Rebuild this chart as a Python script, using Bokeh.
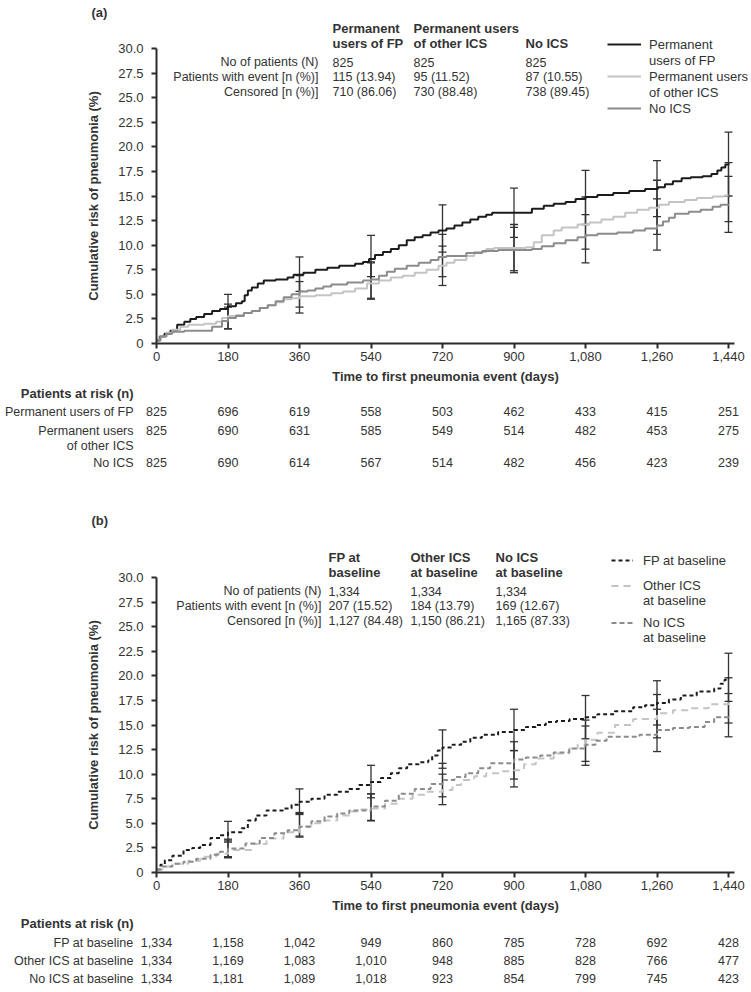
from bokeh.plotting import figure
from bokeh.models import (ColumnDataSource, Label, LabelSet, Whisker, TeeHead, Legend, LegendItem,
                          NumeralTickFormatter, FixedTicker, Range1d, LinearAxis)
from bokeh.layouts import column
from bokeh.embed import file_html
from bokeh.resources import INLINE
from bokeh.core.properties import value

# ---------------- data ----------------
ticks_days = [0, 180, 360, 540, 720, 900, 1080, 1260, 1440]
ci_days = [180, 360, 540, 720, 900, 1080, 1260, 1440]

# Panel (a)
a_fp_days = [0, 8, 20, 35, 52, 70, 85, 100, 120, 140, 160, 180, 200, 215, 222, 230, 240, 255, 270, 300, 330,
             345, 370, 400, 430, 460, 500, 520, 535, 550, 570, 590, 610, 630, 650, 670, 690, 710, 730, 750,
             770, 790, 810, 830, 845, 945, 975, 1000, 1030, 1055, 1080, 1110, 1150, 1190, 1230, 1262, 1280,
             1300, 1322, 1345, 1375, 1397, 1412, 1422, 1432, 1440]
a_fp_vals = [0.3, 0.7, 1.0, 1.3, 1.9, 2.2, 2.5, 2.7, 3.0, 3.3, 3.5, 3.8, 4.1, 4.3, 4.9, 5.4, 5.7, 6.1, 6.4, 6.5,
             6.7, 7.0, 7.2, 7.5, 7.7, 7.9, 8.1, 8.3, 8.6, 9.0, 9.3, 9.6, 10.0, 10.5, 10.8, 11.0, 11.3, 11.5,
             11.7, 12.0, 12.3, 12.6, 12.9, 13.1, 13.3, 13.7, 14.0, 14.2, 14.4, 14.7, 14.9, 15.1, 15.3, 15.5,
             15.7, 15.9, 16.2, 16.5, 16.8, 16.9, 17.0, 17.25, 17.6, 17.9, 18.2, 18.3]
a_oth_days = [0, 10, 25, 40, 60, 80, 120, 150, 165, 180, 200, 220, 240, 260, 280, 300, 320, 340, 360, 400, 440,
              470, 500, 530, 560, 590, 620, 650, 680, 710, 730, 750, 780, 800, 830, 850, 930, 950, 970, 1000,
              1020, 1060, 1090, 1120, 1150, 1180, 1210, 1240, 1265, 1290, 1330, 1360, 1400, 1430, 1440]
a_oth_vals = [0.3, 0.7, 1.1, 1.4, 1.7, 1.9, 2.0, 2.2, 2.6, 2.8, 2.9, 3.1, 3.3, 3.6, 3.9, 4.2, 4.5, 4.6, 4.8, 4.9,
              5.1, 5.3, 5.6, 6.1, 6.4, 6.7, 6.9, 7.2, 7.5, 7.9, 8.2, 8.5, 8.9, 9.3, 9.6, 9.7, 9.8, 10.3, 11.0,
              11.5, 11.8, 12.1, 12.3, 12.6, 12.9, 13.3, 13.6, 13.8, 14.1, 14.4, 14.6, 14.8, 14.95, 15.05, 15.05]
a_no_days = [0, 10, 25, 40, 70, 140, 165, 180, 200, 220, 240, 260, 280, 300, 320, 340, 360, 380, 400, 420, 440,
             480, 520, 540, 560, 580, 600, 630, 660, 690, 710, 730, 780, 820, 860, 945, 970, 1000, 1030, 1060,
             1080, 1110, 1160, 1200, 1230, 1260, 1275, 1290, 1305, 1340, 1370, 1400, 1420, 1440]
a_no_vals = [0.3, 0.7, 1.0, 1.2, 1.3, 1.7, 2.3, 2.6, 2.8, 3.1, 3.3, 3.6, 3.9, 4.3, 4.7, 5.0, 5.3, 5.4, 5.6, 5.8,
             6.0, 6.2, 6.4, 6.5, 6.9, 7.3, 7.6, 7.9, 8.2, 8.5, 8.8, 8.9, 9.2, 9.4, 9.5, 9.6, 9.9, 10.2, 10.5,
             10.8, 11.0, 11.15, 11.3, 11.5, 11.7, 12.0, 12.4, 12.8, 13.2, 13.4, 13.6, 13.9, 14.1, 14.2]
a_fp_lo = [2.6, 5.3, 6.8, 9.3, 10.8, 12.1, 12.9, 15.0]
a_fp_hi = [5.0, 8.8, 11.0, 14.1, 15.8, 17.6, 18.6, 21.5]
a_oth_lo = [1.5, 3.1, 4.5, 5.9, 7.4, 9.6, 11.1, 12.4]
a_oth_hi = [4.0, 6.3, 8.2, 9.9, 12.1, 14.9, 16.6, 18.4]
a_no_lo = [1.5, 3.7, 4.6, 6.8, 7.2, 8.2, 9.5, 11.3]
a_no_hi = [3.7, 6.9, 8.3, 11.1, 11.8, 13.1, 14.7, 17.0]

a_head1 = ["Permanent", "Permanent users", ""]
a_head2 = ["users of FP", "of other ICS", "No ICS"]
a_npat = ["825", "825", "825"]
a_event = ["115 (13.94)", "95 (11.52)", "87 (10.55)"]
a_cens = ["710 (86.06)", "730 (88.48)", "738 (89.45)"]
a_risk_fp = ["825", "696", "619", "558", "503", "462", "433", "415", "251"]
a_risk_oth = ["825", "690", "631", "585", "549", "514", "482", "453", "275"]
a_risk_no = ["825", "690", "614", "567", "514", "482", "456", "423", "239"]

# Panel (b)
b_fp_days = [0, 10, 21, 40, 68, 90, 110, 136, 160, 180, 214, 230, 250, 277, 318, 340, 360, 390, 423, 455, 485,
             510, 540, 565, 590, 610, 631, 660, 684, 694, 708, 720, 745, 767, 790, 819, 860, 900, 930, 955, 980,
             1007, 1040, 1080, 1110, 1154, 1200, 1230, 1260, 1290, 1320, 1360, 1404, 1420, 1430, 1440]
b_fp_vals = [0.3, 0.8, 1.25, 1.7, 2.3, 2.5, 2.8, 3.5, 3.8, 4.1, 4.5, 5.3, 5.8, 6.3, 6.5, 6.9, 7.2, 7.5, 7.9, 8.2,
             8.5, 8.9, 9.2, 9.6, 10.1, 10.6, 11.0, 11.2, 11.4, 11.9, 12.4, 12.7, 13.0, 13.3, 13.7, 14.0, 14.3,
             14.5, 14.8, 15.0, 15.3, 15.4, 15.6, 15.8, 16.1, 16.4, 16.8, 17.0, 17.25, 17.6, 18.0, 18.4, 18.7,
             19.2, 19.6, 19.8]
b_oth_days = [0, 15, 47, 80, 110, 150, 180, 214, 240, 277, 320, 360, 390, 423, 455, 485, 515, 540, 575, 610, 645,
              675, 720, 745, 767, 800, 830, 860, 900, 925, 955, 1000, 1039, 1060, 1080, 1110, 1154, 1200, 1260,
              1300, 1341, 1390, 1440]
b_oth_vals = [0.3, 0.6, 0.9, 1.2, 1.6, 1.9, 2.3, 2.3, 2.9, 3.45, 4.1, 4.7, 5.0, 5.3, 5.8, 6.2, 6.4, 6.5, 7.0, 7.5,
              7.9, 8.2, 8.4, 8.9, 9.4, 9.8, 10.1, 10.3, 10.4, 11.0, 11.6, 12.1, 12.6, 13.0, 13.5, 14.2, 15.0,
              15.6, 16.2, 16.5, 16.7, 17.1, 17.4]
b_no_days = [0, 15, 40, 68, 100, 136, 160, 180, 224, 260, 297, 330, 360, 390, 423, 455, 485, 540, 575, 610, 650,
             690, 720, 750, 778, 810, 840, 900, 930, 966, 1000, 1039, 1080, 1105, 1133, 1216, 1260, 1300, 1341,
             1380, 1404, 1440]
b_no_vals = [0.3, 0.6, 0.9, 1.1, 1.4, 1.8, 2.1, 2.45, 2.95, 3.5, 4.0, 4.3, 4.65, 5.2, 5.7, 6.0, 6.3, 6.7, 7.3,
             8.0, 8.5, 9.0, 9.4, 9.7, 10.1, 10.6, 11.1, 11.5, 11.7, 11.9, 12.2, 12.6, 13.0, 13.4, 13.8, 14.0,
             14.5, 14.7, 14.8, 15.3, 15.8, 16.0]
b_fp_lo = [3.1, 5.9, 7.6, 10.6, 12.4, 13.6, 15.0, 17.4]
b_fp_hi = [5.2, 8.5, 10.9, 14.5, 16.6, 18.0, 19.5, 22.3]
b_oth_lo = [1.5, 3.6, 5.25, 6.9, 8.7, 11.3, 13.7, 15.2]
b_oth_hi = [3.3, 6.0, 8.0, 10.0, 12.4, 15.5, 18.1, 19.8]
b_no_lo = [1.6, 3.7, 5.3, 7.7, 9.5, 10.9, 12.3, 13.8]
b_no_hi = [3.4, 6.1, 8.0, 11.1, 13.3, 14.9, 16.6, 18.2]

b_groups = ["FP at baseline", "Other ICS at baseline", "No ICS at baseline"]
b_head1 = ["FP at", "Other ICS", "No ICS"]
b_head2 = ["baseline", "at baseline", "at baseline"]
b_npat = ["1,334", "1,334", "1,334"]
b_event = ["207 (15.52)", "184 (13.79)", "169 (12.67)"]
b_cens = ["1,127 (84.48)", "1,150 (86.21)", "1,165 (87.33)"]
b_risk_fp = ["1,334", "1,158", "1,042", "949", "860", "785", "728", "692", "428"]
b_risk_oth = ["1,334", "1,169", "1,083", "1,010", "948", "885", "828", "766", "477"]
b_risk_no = ["1,334", "1,181", "1,089", "1,018", "923", "854", "799", "745", "423"]

row_labels = ["No of patients (N)", "Patients with event [n (%)]", "Censored [n (%)]"]

# ---------------- style / layout ----------------
FONT_NAME = "Liberation Sans"
FS = "13px"
FS_T = "12.5px"
TXT = "#333333"
AX = "#2b2b2b"
C_FP, C_OTH, C_NO = "#1c1c1c", "#c4c4c4", "#8c8c8c"
W = 751
ORIG_X = 156          # px from figure left to day 0
PPX = 572 / 1440.0    # px per day
XMAX = 1455.0
PPY = 295 / 30.0


def X(px):
    """horizontal offset in px from day 0 -> data x"""
    return px / PPX


def Y(px):
    """vertical offset in px above the x axis -> data y"""
    return px / PPY


def make_fig(height, origin_from_top):
    # the frame fills the whole figure; axes are pinned at data 0
    p = figure(width=W, height=height, output_backend="svg", toolbar_location=None,
               x_range=Range1d(-X(ORIG_X), X(W - ORIG_X)),
               y_range=Range1d(-Y(height - origin_from_top), Y(origin_from_top)),
               x_axis_location=None, y_axis_location=None,
               min_border_left=0, min_border_right=0, min_border_top=0, min_border_bottom=0)
    p.outline_line_color = None
    p.grid.visible = False
    xa = LinearAxis(fixed_location=0, bounds=(0, XMAX), ticker=FixedTicker(ticks=ticks_days),
                    formatter=NumeralTickFormatter(format="0,0"),
                    axis_label="Time to first pneumonia event (days)")
    ya = LinearAxis(fixed_location=0, bounds=(0, 30), ticker=FixedTicker(ticks=[i * 2.5 for i in range(13)]),
                    formatter=NumeralTickFormatter(format="0.0"), major_label_overrides={0: "0"},
                    axis_label="Cumulative risk of pneumonia (%)")
    for ax in (xa, ya):
        ax.axis_line_width = 2
        ax.axis_line_color = AX
        ax.major_tick_line_width = 2
        ax.major_tick_line_color = AX
        ax.major_tick_out = 5
        ax.major_tick_in = 0
        ax.minor_tick_line_color = None
        ax.major_label_text_font = FONT_NAME
        ax.major_label_text_font_size = FS
        ax.major_label_text_color = TXT
        ax.axis_label_text_font = FONT_NAME
        ax.axis_label_text_font_size = FS
        ax.axis_label_text_font_style = "bold"
        ax.axis_label_text_color = TXT
    xa.major_label_standoff = 3
    xa.axis_label_standoff = 5
    ya.major_label_standoff = 8
    ya.axis_label_standoff = 14
    p.add_layout(xa, "below")
    p.add_layout(ya, "left")
    return p


def txt(p, x, y, text, align="left", bold=False, size=FS_T):
    p.add_layout(Label(x=x, y=y, text=text, text_align=align, text_baseline="middle",
                       text_font=FONT_NAME, text_font_size=size, text_color=TXT,
                       text_font_style="bold" if bold else "normal"))


def whiskers(p, lo, hi):
    src = ColumnDataSource(dict(base=ci_days, lo=lo, hi=hi))
    p.add_layout(Whisker(source=src, base="base", lower="lo", upper="hi", line_color="#333333", line_width=1.3,
                         upper_head=TeeHead(size=8, line_color="#333333", line_width=1.3),
                         lower_head=TeeHead(size=8, line_color="#333333", line_width=1.3)))


def header(p, cols_px, label_px, head1, head2, npat, event, cens, tag, tag_y):
    txt(p, X(-65), tag_y, tag, "left", True, FS)
    ys = [32.0, 30.5, 28.6, 27.1, 25.6]
    for i, cx in enumerate(cols_px):
        x = X(cx)
        if head1[i]:
            txt(p, x, ys[0], head1[i], "left", True, FS)
        txt(p, x, ys[1], head2[i], "left", True, FS)
        txt(p, x, ys[2], npat[i])
        txt(p, x, ys[3], event[i])
        txt(p, x, ys[4], cens[i])
    for j, lab in enumerate(row_labels):
        txt(p, X(label_px), ys[2 + j], lab, "right")


def risk_table(p, rows, names, offsets, extra=None):
    lab_x = X(-23)
    txt(p, lab_x, -Y(offsets[0]), "Patients at risk (n)", "right", True, FS)
    for k, (vals, name) in enumerate(zip(rows, names)):
        y = -Y(offsets[k + 1])
        src = ColumnDataSource(dict(x=ticks_days, y=[y] * len(ticks_days), t=vals))
        p.add_layout(LabelSet(x="x", y="y", text="t", source=src, text_align="center", text_baseline="middle",
                              text_font=value(FONT_NAME), text_font_size=value(FS_T), text_color=TXT))
        txt(p, lab_x, y, name, "right")
    if extra:
        for name, off in extra:
            txt(p, lab_x, -Y(off), name, "right")


def dummy(p):
    return p.line(x=[], y=[], line_alpha=0)


def legend(p, items, loc, glyph_w, standoff, lh):
    lg = Legend(items=items, location=loc, label_text_font=FONT_NAME, label_text_font_size=FS,
                label_text_color=TXT, label_height=lh, glyph_height=lh, glyph_width=glyph_w,
                label_standoff=standoff, spacing=0, padding=0, margin=0, border_line_alpha=0,
                background_fill_alpha=0)
    p.add_layout(lg)


# ---------------- panel (a) ----------------
HA, OA = 500, 343          # figure height, x-axis distance from figure top
pa = make_fig(HA, OA)
ra_fp = pa.step(a_fp_days, a_fp_vals, mode="after", line_color=C_FP, line_width=2)
ra_oth = pa.step(a_oth_days, a_oth_vals, mode="after", line_color=C_OTH, line_width=2)
ra_no = pa.step(a_no_days, a_no_vals, mode="after", line_color=C_NO, line_width=2)
for lo, hi in ((a_oth_lo, a_oth_hi), (a_no_lo, a_no_hi), (a_fp_lo, a_fp_hi)):
    whiskers(pa, lo, hi)
header(pa, [176, 257, 369], 162, a_head1, a_head2, a_npat, a_event, a_cens, "(a)", Y(OA - 12))
risk_table(pa, [a_risk_fp, a_risk_oth, a_risk_no],
           ["Permanent users of FP", "Permanent users", "No ICS"], [50, 68, 87, 119],
           extra=[("of other ICS", 102)])
legend(pa, [LegendItem(label="Permanent", renderers=[ra_fp]),
            LegendItem(label="users of FP", renderers=[dummy(pa)]),
            LegendItem(label="Permanent users", renderers=[ra_oth]),
            LegendItem(label="of other ICS", renderers=[dummy(pa)]),
            LegendItem(label="No ICS", renderers=[ra_no])],
       (607, HA - 116), 34, 8, 16)

# ---------------- panel (b) ----------------
HB, OB = 492, 372
pb = make_fig(HB, OB)
rb_fp = pb.step(b_fp_days, b_fp_vals, mode="after", line_color=C_FP, line_width=2, line_dash="4 3")
rb_oth = pb.step(b_oth_days, b_oth_vals, mode="after", line_color=C_OTH, line_width=2, line_dash="7 5")
rb_no = pb.step(b_no_days, b_no_vals, mode="after", line_color=C_NO, line_width=2, line_dash="5 3")
for lo, hi in ((b_oth_lo, b_oth_hi), (b_no_lo, b_no_hi), (b_fp_lo, b_fp_hi)):
    whiskers(pb, lo, hi)
header(pb, [172, 254, 339], 165, b_head1, b_head2, b_npat, b_event, b_cens, "(b)", Y(OB - 20))
risk_table(pb, [b_risk_fp, b_risk_oth, b_risk_no], b_groups, [51, 70, 88, 106])
legend(pb, [LegendItem(label="FP at baseline", renderers=[rb_fp])], (611, HB - 68), 22, 10, 16)
legend(pb, [LegendItem(label="Other ICS", renderers=[rb_oth]),
            LegendItem(label="at baseline", renderers=[dummy(pb)])], (611, HB - 108), 22, 10, 15)
legend(pb, [LegendItem(label="No ICS", renderers=[rb_no]),
            LegendItem(label="at baseline", renderers=[dummy(pb)])], (611, HB - 145), 22, 10, 15)

layout = column(pa, pb, spacing=0)
open("out.html", "w").write(file_html(layout, INLINE))
